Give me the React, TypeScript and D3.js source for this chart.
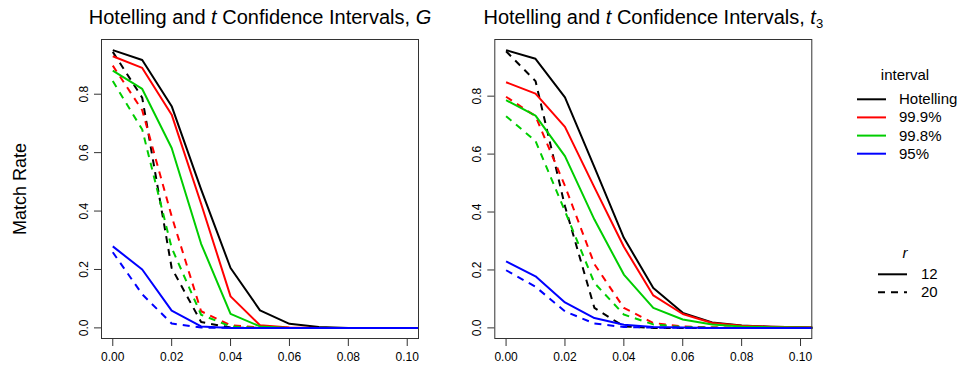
import React from 'react';
import * as d3 from 'd3';

const xVals = [0, 0.01, 0.02, 0.03, 0.04, 0.05, 0.06, 0.07, 0.08, 0.09, 0.1, 0.11];
const intervals = ['Hotelling', '99.9%', '99.8%', '95%'];
const intervalColors = ['#000000', '#FF0000', '#00CD00', '#0000FF'];
const rLevels = ['12', '20'];
const xTicks = [0, 0.02, 0.04, 0.06, 0.08, 0.1];
const yTicks = [0, 0.2, 0.4, 0.6, 0.8];

// Panel G
const gHot12 = [0.951, 0.917, 0.759, 0.474, 0.205, 0.06, 0.014, 0.003, 0, 0, 0, 0];
const g999r12 = [0.93, 0.89, 0.73, 0.425, 0.108, 0.009, 0.001, 0, 0, 0, 0, 0];
const g998r12 = [0.881, 0.818, 0.616, 0.288, 0.048, 0.005, 0, 0, 0, 0, 0, 0];
const g95r12 = [0.279, 0.2, 0.059, 0.005, 0, 0, 0, 0, 0, 0, 0, 0];
const gHot20 = [0.945, 0.788, 0.205, 0.02, 0.001, 0, 0, 0, 0, 0, 0, 0];
const g999r20 = [0.898, 0.745, 0.382, 0.057, 0.009, 0.001, 0, 0, 0, 0, 0, 0];
const g998r20 = [0.845, 0.679, 0.274, 0.045, 0.005, 0, 0, 0, 0, 0, 0, 0];
const g95r20 = [0.259, 0.115, 0.015, 0.001, 0, 0, 0, 0, 0, 0, 0, 0];

// Panel t3
const tHot12 = [0.959, 0.929, 0.796, 0.555, 0.311, 0.138, 0.052, 0.019, 0.008, 0.004, 0.002, 0.001];
const t999r12 = [0.848, 0.809, 0.694, 0.485, 0.28, 0.112, 0.048, 0.017, 0.007, 0.004, 0.002, 0.001];
const t998r12 = [0.786, 0.733, 0.593, 0.374, 0.184, 0.069, 0.029, 0.012, 0.005, 0.002, 0.001, 0];
const t95r12 = [0.23, 0.178, 0.088, 0.034, 0.011, 0.003, 0.001, 0, 0, 0, 0, 0];
const tHot20 = [0.955, 0.852, 0.42, 0.069, 0.005, 0, 0, 0, 0, 0, 0, 0];
const t999r20 = [0.798, 0.731, 0.49, 0.22, 0.069, 0.017, 0.005, 0.002, 0.001, 0, 0, 0];
const t998r20 = [0.731, 0.645, 0.403, 0.155, 0.046, 0.012, 0.003, 0.001, 0, 0, 0, 0];
const t95r20 = [0.199, 0.142, 0.057, 0.015, 0.003, 0.001, 0, 0, 0, 0, 0, 0];

const FONT = '"Liberation Sans", Arial, Helvetica, sans-serif';
const DASH = '7,6';

type Series = { interval: number; r: number; values: number[] };

const gSeries: Series[] = [
  { interval: 0, r: 0, values: gHot12 },
  { interval: 0, r: 1, values: gHot20 },
  { interval: 1, r: 0, values: g999r12 },
  { interval: 1, r: 1, values: g999r20 },
  { interval: 2, r: 0, values: g998r12 },
  { interval: 2, r: 1, values: g998r20 },
  { interval: 3, r: 0, values: g95r12 },
  { interval: 3, r: 1, values: g95r20 },
];
const tSeries: Series[] = [
  { interval: 0, r: 0, values: tHot12 },
  { interval: 0, r: 1, values: tHot20 },
  { interval: 1, r: 0, values: t999r12 },
  { interval: 1, r: 1, values: t999r20 },
  { interval: 2, r: 0, values: t998r12 },
  { interval: 2, r: 1, values: t998r20 },
  { interval: 3, r: 0, values: t95r12 },
  { interval: 3, r: 1, values: t95r20 },
];

const BOX_TOP = 39;
const BOX_BOTTOM = 339;
const BOX_W = 318;

function Panel({ left, series, id, title }: { left: number; series: Series[]; id: string; title: React.ReactNode }) {
  const x = d3.scaleLinear().domain([-0.004, 0.104]).range([left, left + BOX_W]);
  const maxV = d3.max(series, (s) => d3.max(s.values)) as number;
  const minV = 0;
  const span = maxV - minV;
  const y = d3.scaleLinear().domain([minV - 0.04 * span, maxV + 0.04 * span]).range([BOX_BOTTOM, BOX_TOP]);
  const line = d3
    .line<number>()
    .x((_, i) => x(xVals[i]))
    .y((v) => y(v));
  const cx = left + BOX_W / 2;
  return (
    <g>
      <defs>
        <clipPath id={id}>
          <rect x={left} y={BOX_TOP} width={BOX_W} height={BOX_BOTTOM - BOX_TOP} />
        </clipPath>
      </defs>
      <text x={cx} y={24} textAnchor="middle" fontSize={20} fontFamily={FONT} fill="#000">
        {title}
      </text>
      <g clipPath={`url(#${id})`}>
        {series.map((s, k) => (
          <path
            key={k}
            d={line(s.values) || ''}
            fill="none"
            stroke={intervalColors[s.interval]}
            strokeWidth={2}
            strokeDasharray={s.r === 1 ? DASH : undefined}
            strokeLinejoin="round"
          />
        ))}
      </g>
      <rect x={left + 0.5} y={BOX_TOP + 0.5} width={BOX_W - 1} height={BOX_BOTTOM - BOX_TOP - 1} fill="none" stroke="#333" strokeWidth={1} />
      {xTicks.map((t) => (
        <g key={`x${t}`}>
          <line x1={x(t)} x2={x(t)} y1={BOX_BOTTOM} y2={BOX_BOTTOM + 7} stroke="#333" strokeWidth={1} />
          <text x={x(t)} y={BOX_BOTTOM + 22} textAnchor="middle" fontSize={12} fontFamily={FONT} fill="#000">
            {t.toFixed(2)}
          </text>
        </g>
      ))}
      {yTicks.map((t) => (
        <g key={`y${t}`}>
          <line x1={left - 7} x2={left} y1={y(t)} y2={y(t)} stroke="#333" strokeWidth={1} />
          <text
            transform={`translate(${left - 13},${y(t)}) rotate(-90)`}
            textAnchor="middle"
            fontSize={12}
            fontFamily={FONT}
            fill="#000"
          >
            {t.toFixed(1)}
          </text>
        </g>
      ))}
    </g>
  );
}

export default function App() {
  const legX1 = 857;
  const legX2 = 886;
  const legRows = [99.3, 117.4, 135.6, 153.7];
  const rRows = [274.3, 292.3];
  return (
    <svg
      width={967}
      height={370}
      style={{ position: 'absolute', left: 0, top: 0, background: '#fff' }}
      xmlns="http://www.w3.org/2000/svg"
    >
      <rect x={0} y={0} width={967} height={370} fill="#fff" />
      <text
        transform="translate(26,189) rotate(-90)"
        textAnchor="middle"
        fontSize={18}
        fontFamily={FONT}
        fill="#000"
      >
        Match Rate
      </text>
      <Panel
        left={101}
        series={gSeries}
        id="clipG"
        title={
          <>
            <tspan>Hotelling and </tspan>
            <tspan fontStyle="italic">t</tspan>
            <tspan> Confidence Intervals, </tspan>
            <tspan fontStyle="italic">G</tspan>
          </>
        }
      />
      <Panel
        left={494.3}
        series={tSeries}
        id="clipT"
        title={
          <>
            <tspan>Hotelling and </tspan>
            <tspan fontStyle="italic">t</tspan>
            <tspan> Confidence Intervals, </tspan>
            <tspan fontStyle="italic">t</tspan>
            <tspan fontSize={13} dy={4}>3</tspan>
          </>
        }
      />
      <text x={905} y={80} textAnchor="middle" fontSize={15} fontFamily={FONT} fill="#000">
        interval
      </text>
      {intervals.map((name, i) => (
        <g key={name}>
          <line x1={legX1} x2={legX2} y1={legRows[i]} y2={legRows[i]} stroke={intervalColors[i]} strokeWidth={2} />
          <text x={899} y={legRows[i] + 5} fontSize={15} fontFamily={FONT} fill="#000">
            {name}
          </text>
        </g>
      ))}
      <text x={905} y={258} textAnchor="middle" fontSize={15} fontStyle="italic" fontFamily={FONT} fill="#000">
        r
      </text>
      {rLevels.map((lv, i) => (
        <g key={lv}>
          <line
            x1={878}
            x2={907}
            y1={rRows[i]}
            y2={rRows[i]}
            stroke="#000"
            strokeWidth={2}
            strokeDasharray={i === 1 ? DASH : undefined}
          />
          <text x={921} y={rRows[i] + 5} fontSize={15} fontFamily={FONT} fill="#000">
            {lv}
          </text>
        </g>
      ))}
    </svg>
  );
}
